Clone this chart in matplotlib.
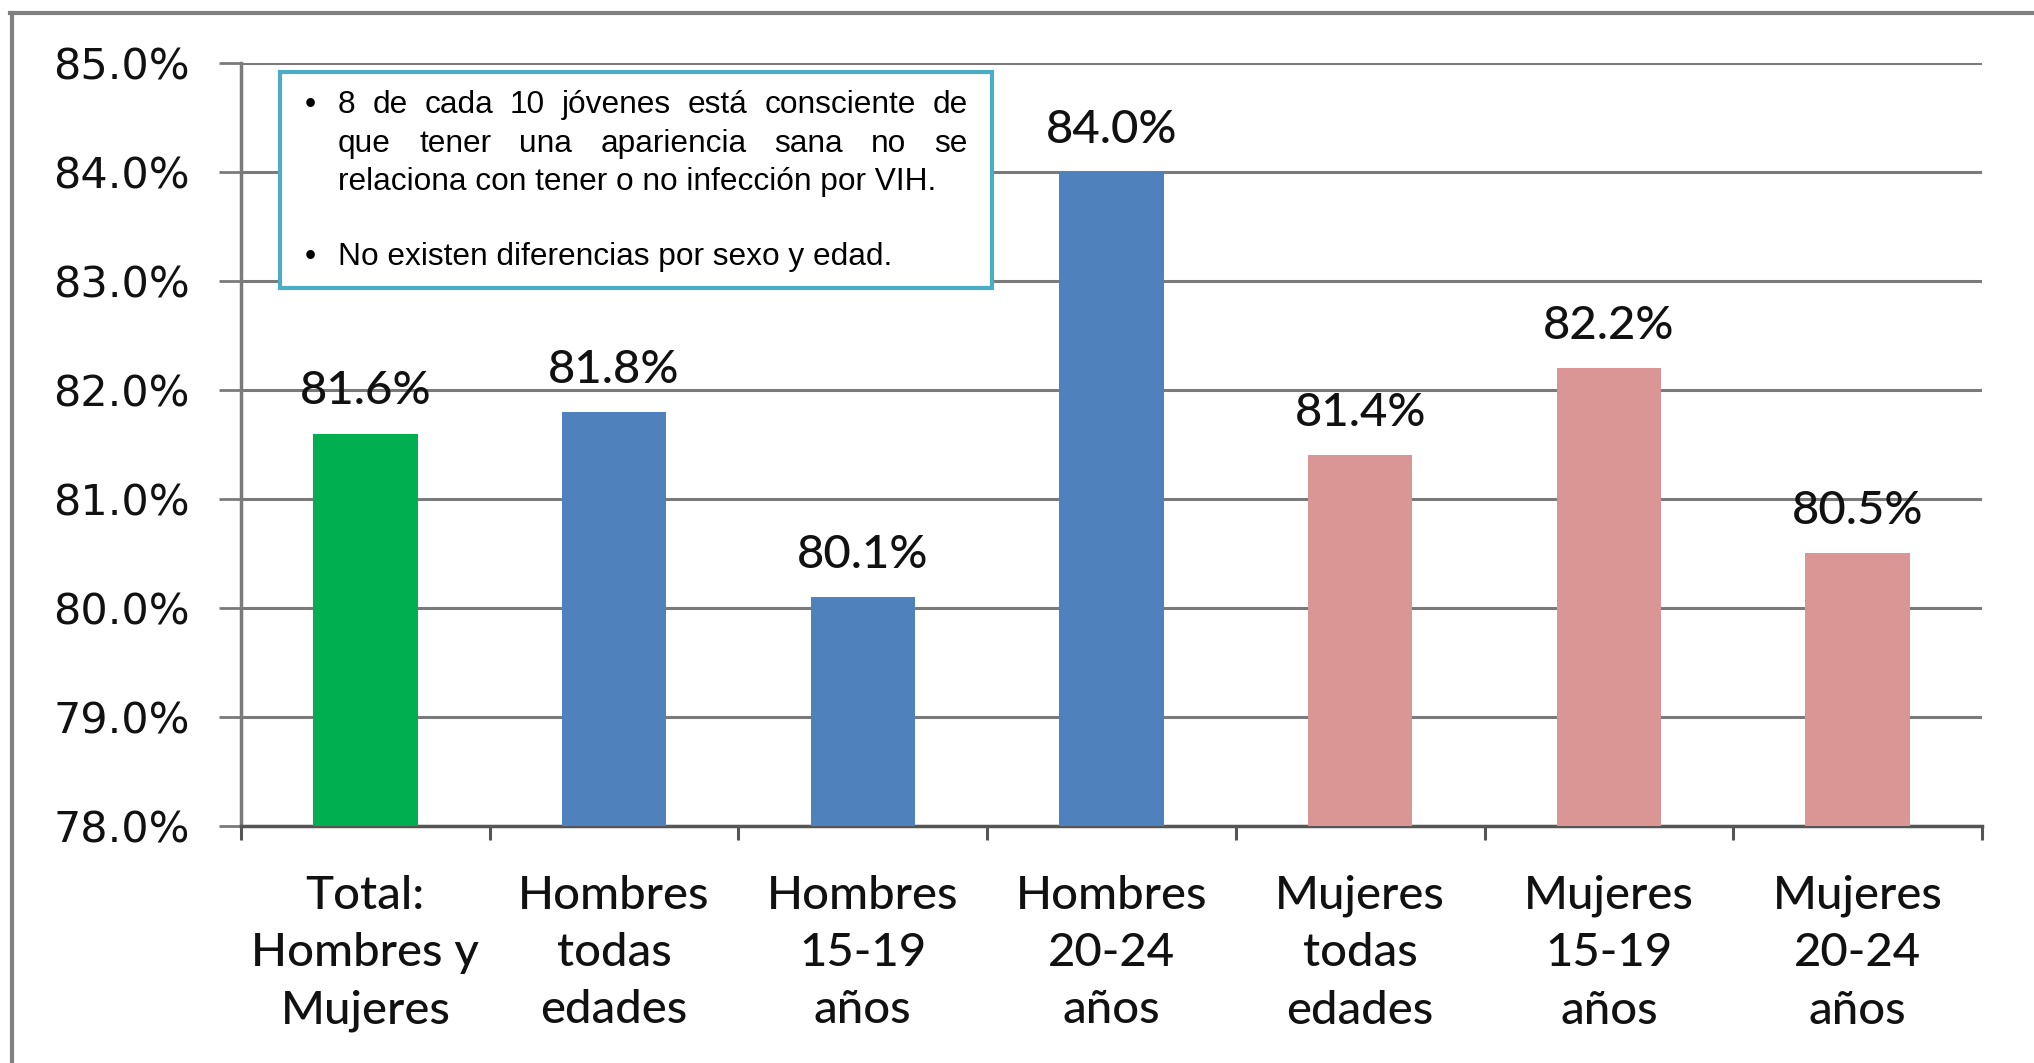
import matplotlib
matplotlib.use("Agg")
import matplotlib.pyplot as plt
from matplotlib.lines import Line2D
from matplotlib.patches import Rectangle
from matplotlib.ticker import FixedLocator

# ---------------- data ----------------
categories = ["Total:\nHombres y\nMujeres", "Hombres\ntodas\nedades", "Hombres\n15-19\naños",
              "Hombres\n20-24\naños", "Mujeres\ntodas\nedades", "Mujeres\n15-19\naños",
              "Mujeres\n20-24\naños"]
values = [81.6, 81.8, 80.1, 84.0, 81.4, 82.2, 80.5]
groups = ["total", "hombres", "hombres", "hombres", "mujeres", "mujeres", "mujeres"]
y_ticks = [78, 79, 80, 81, 82, 83, 84, 85]
y_tick_labels = [f"{v:.1f}%" for v in y_ticks]
box_lines1 = ["8 de cada 10 jóvenes está consciente de",
              "que tener una apariencia sana no se",
              "relaciona con tener o no infección por VIH."]
box_line2 = "No existen diferencias por sexo y edad."

group_colors = {"total": "#00B050", "hombres": "#4F81BD", "mujeres": "#D99694"}

# ---------------- figure ----------------
W, H = 2034, 1063
fig = plt.figure(figsize=(W / 100, H / 100), dpi=100)
fig.patch.set_facecolor("white")

def fx(px):
    return px / W

def fy(py):
    return 1 - py / H

ax_l, ax_r, ax_t, ax_b = 241, 1982, 63, 826
ax = fig.add_axes([fx(ax_l), fy(ax_b), fx(ax_r - ax_l), (ax_b - ax_t) / H])

grid_col = "#7a7a7a"
text_col = "#111111"
x = list(range(len(categories)))
ax.bar(x, values, width=0.42, bottom=0, color=[group_colors[g] for g in groups], zorder=3)
ax.set_xlim(-0.5, len(categories) - 0.5)
ax.set_ylim(78, 85)
ax.set_axisbelow(True)

ax.set_yticks(y_ticks)
ax.set_yticklabels(y_tick_labels, fontsize=31, family="DejaVu Sans", color=text_col)
ax.yaxis.grid(True, color=grid_col, linewidth=2.2, zorder=0)
ax.tick_params(axis="y", length=16, width=2, color=grid_col, pad=21)

ax.set_xticks(x)
ax.set_xticklabels(categories, fontsize=34, family="Lato", fontweight="medium",
                   color=text_col, linespacing=1.45)
ax.tick_params(axis="x", which="major", length=0, pad=35)
ax.xaxis.set_minor_locator(FixedLocator([i - 0.5 for i in range(len(categories) + 1)]))
ax.tick_params(axis="x", which="minor", length=10, width=2.2, color="#555555", direction="out")

for s in ["top", "right"]:
    ax.spines[s].set_visible(False)
ax.spines["left"].set_color(grid_col)
ax.spines["left"].set_linewidth(2.5)
ax.spines["bottom"].set_color("#555555")
ax.spines["bottom"].set_linewidth(2.5)

for xi, v in zip(x, values):
    ax.annotate(f"{v:.1f}%", (xi, v), xytext=(0, 21), textcoords="offset points",
                ha="center", va="baseline", fontsize=34, family="Lato", fontweight="medium",
                color=text_col)

# ---------------- frame lines of the slide ----------------
fig.add_artist(Line2D([fx(10), 1], [fy(13), fy(13)], transform=fig.transFigure,
                      color="#808080", linewidth=3))
fig.add_artist(Line2D([fx(12), fx(12)], [fy(13), 0], transform=fig.transFigure,
                      color="#808080", linewidth=3))

# ---------------- text box ----------------
bx0, by0, bx1, by1 = 280, 72, 992, 288
fig.add_artist(Rectangle((fx(bx0), fy(by1)), fx(bx1 - bx0), (by1 - by0) / H,
                         transform=fig.transFigure, facecolor="white",
                         edgecolor="#4BACC6", linewidth=3, zorder=10))

fs_box = 22.8
fam_box = "Liberation Sans"
text_x0, text_x1 = 338, 968
bullet_x = 305
baselines = [113, 152, 190, 265]

renderer = fig.canvas.get_renderer()

def justify(line, y):
    words = line.split(" ")
    ts = [fig.text(0, 0, w, fontsize=fs_box, family=fam_box, va="baseline", zorder=11)
          for w in words]
    widths = [t.get_window_extent(renderer).width for t in ts]
    gap = (text_x1 - text_x0 - sum(widths)) / (len(words) - 1)
    cur = text_x0
    for t, w in zip(ts, widths):
        t.set_position((fx(cur), fy(y)))
        cur += w + gap

def bullet(y):
    fig.text(fx(bullet_x), fy(y), "•", fontsize=fs_box, family=fam_box, va="baseline", zorder=11)

bullet(baselines[0])
justify(box_lines1[0], baselines[0])
justify(box_lines1[1], baselines[1])
fig.text(fx(text_x0), fy(baselines[2]), box_lines1[2], fontsize=fs_box, family=fam_box,
         va="baseline", zorder=11)
bullet(baselines[3])
fig.text(fx(text_x0), fy(baselines[3]), box_line2, fontsize=fs_box, family=fam_box,
         va="baseline", zorder=11)

fig.savefig("out.png", dpi=100, facecolor="white")
